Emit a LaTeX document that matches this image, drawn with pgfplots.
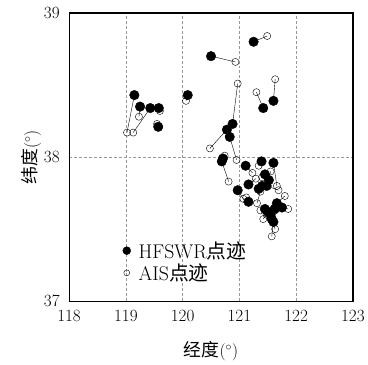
\documentclass[border=0pt]{standalone}
\usepackage{fontspec}
\usepackage{pgfplots}
\usepackage{pgfplotstable}
\pgfplotsset{compat=1.18}
\newfontfamily\cjk{Noto Sans CJK SC}
\pgfplotstableread{
hx hy ax ay
119.15 38.43 119.02 38.17
119.43 38.34 119.13 38.17
119.25 38.35 119.23 38.28
119.58 38.34 119.60 38.32
119.57 38.21 119.55 38.23
120.09 38.43 120.06 38.39
120.50 38.70 120.93 38.66
121.25 38.80 121.49 38.84
120.88 38.23 120.97 38.51
121.42 38.34 121.30 38.45
121.60 38.39 121.63 38.54
120.78 38.19 120.48 38.06
120.83 38.14 120.95 37.98
120.69 37.97 120.81 37.83
120.71 37.99 120.74 38.01
121.11 37.94 121.23 37.89
121.39 37.97 121.34 37.94
121.60 37.96 121.66 37.80
121.16 37.81 121.29 37.85
121.34 37.78 121.37 37.76
121.48 37.80 121.69 37.77
120.97 37.77 121.07 37.71
121.16 37.69 121.12 37.72
121.66 37.68 121.80 37.73
121.57 37.57 121.63 37.50
121.45 37.64 121.37 37.63
121.50 37.62 121.42 37.57
121.62 37.64 121.63 37.63
121.55 37.60 121.48 37.60
121.60 37.55 121.57 37.45
121.40 37.80 121.31 37.68
121.75 37.65 121.86 37.64
121.45 37.88 121.40 37.86
121.52 37.84 121.55 37.90
}\pairs
\begin{document}
\begin{tikzpicture}
\begin{axis}[
  scale only axis,
  width=285.5bp, height=290bp,
  xmin=118, xmax=123, ymin=37, ymax=39,
  xtick={118,119,120,121,122,123},
  ytick={37,38,39},
  major tick length=0pt,
  grid=major,
  major grid style={densely dashed, gray!80, line width=0.4pt},
  axis line style={line width=1.2pt},
  ticklabel style={font=\fontsize{18.5}{18.5}\selectfont},
  xticklabel style={yshift=-6bp},
  yticklabel style={xshift=-6bp},
  xlabel={\cjk 经度\rmfamily$(^\circ)$},
  ylabel={\cjk 纬度\rmfamily$(^\circ)$},
  label style={font=\fontsize{18}{18}\selectfont},
  xlabel style={yshift=-13bp},
  ylabel style={yshift=-4bp},
  legend style={draw=none, fill=none, at={(0.185,0.218)}, anchor=north west,
    font=\fontsize{20}{20}\selectfont, row sep=0bp, inner sep=1bp,
    nodes={inner xsep=8bp}},
  legend cell align=left,
]
\addplot[black, line width=0.4pt, quiver={u=\thisrow{ax}-\thisrow{hx}, v=\thisrow{ay}-\thisrow{hy}}, forget plot] table[x=hx, y=hy] {\pairs};
\addplot[only marks, mark=*, mark size=4.8bp, black, mark options={fill=black},
  legend image post style={mark size=4bp}] table[x=hx, y=hy] {\pairs};
\addplot[only marks, mark=o, mark size=3.6bp, black, line width=0.4pt, mark options={fill=white},
  legend image post style={mark size=3bp}] table[x=ax, y=ay] {\pairs};
\legend{HFSWR{\cjk 点迹}, AIS{\cjk 点迹}}
\end{axis}
\path (current axis.south west) ++(-69.5bp,-62bp) (current axis.north east) ++(13bp,13bp);
\end{tikzpicture}
\end{document}
